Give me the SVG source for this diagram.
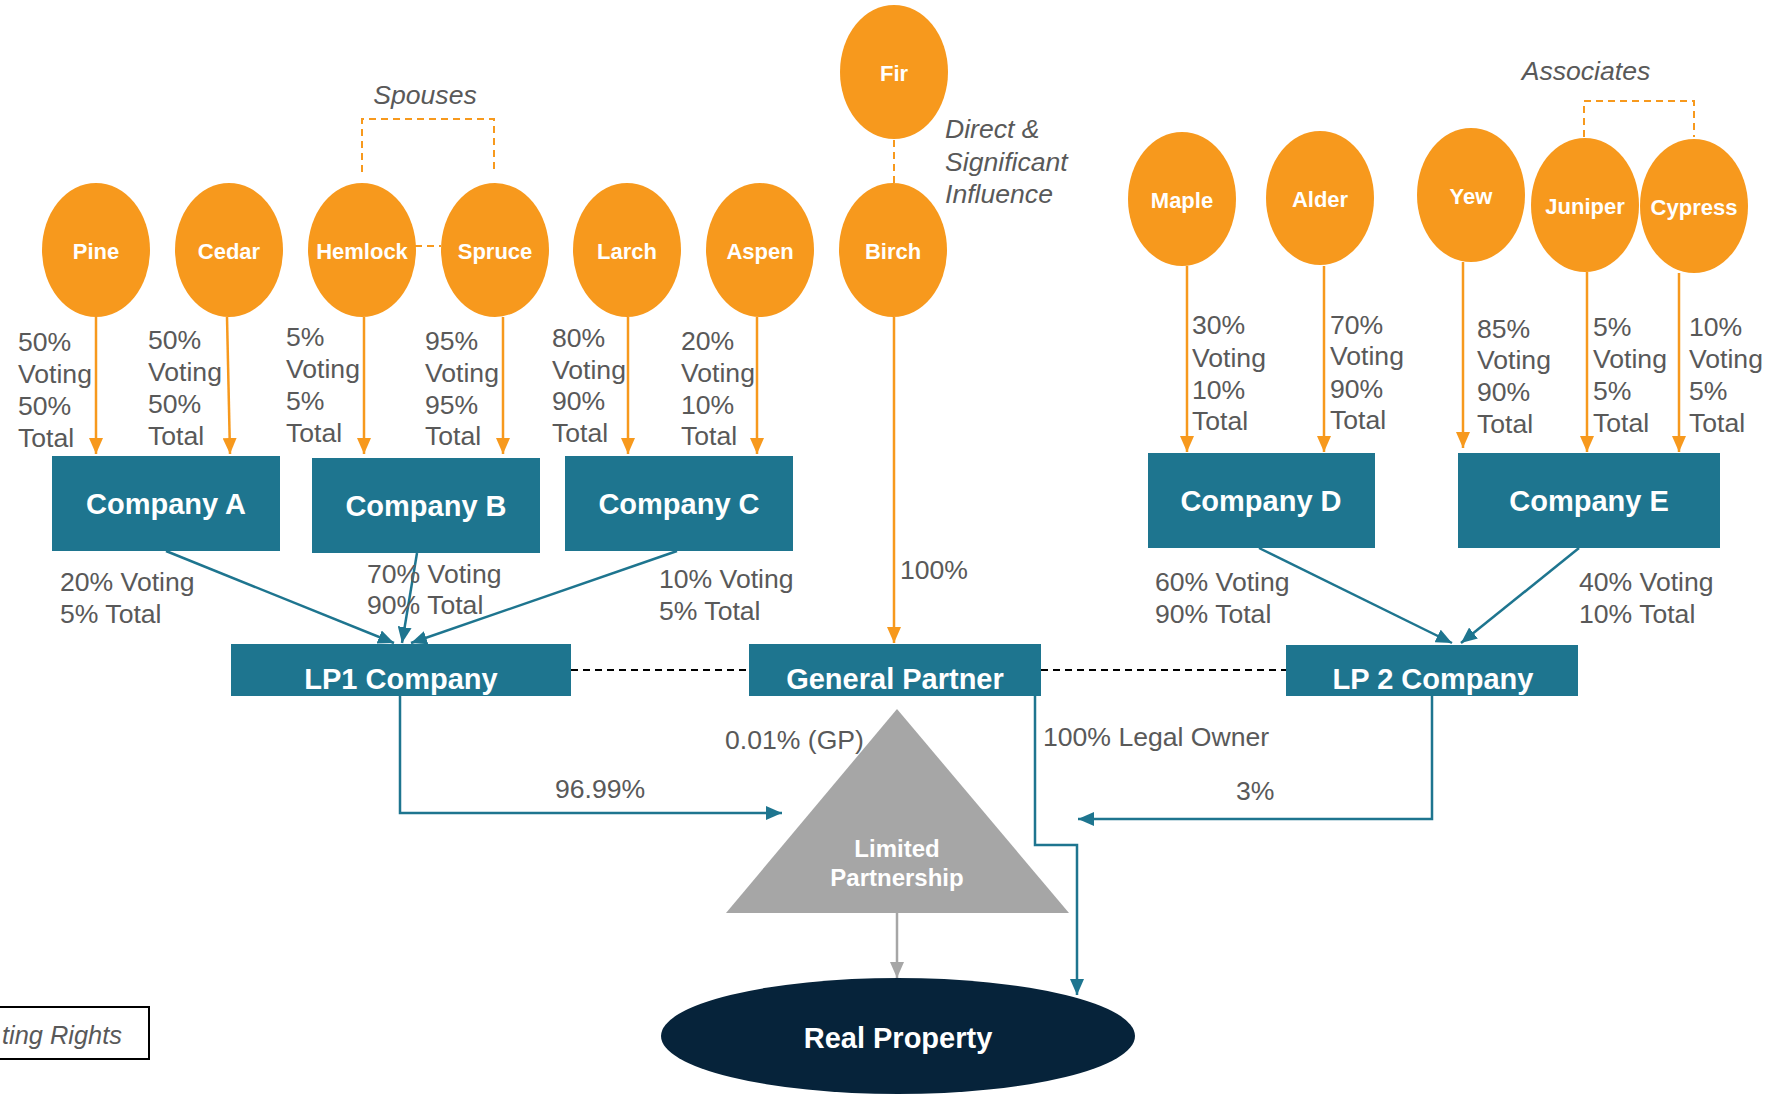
<svg xmlns="http://www.w3.org/2000/svg" width="1773" height="1094" viewBox="0 0 1773 1094">
<defs>
<style>
.per{fill:#F7991D}
.pl{font-family:"Liberation Sans",Arial,sans-serif;font-weight:bold;font-size:22px;fill:#fff;text-anchor:middle}
.box{fill:#1E758F}
.bl{font-family:"Liberation Sans",Arial,sans-serif;font-weight:bold;font-size:29px;fill:#fff;text-anchor:middle}
.lab{font-family:"Liberation Sans",Arial,sans-serif;font-size:26.6px;fill:#595959}
.it{font-family:"Liberation Sans",Arial,sans-serif;font-size:26.6px;font-style:italic;fill:#595959}
.oa{stroke:#F7991D;stroke-width:2.5;fill:none;marker-end:url(#ao)}
.od{stroke:#F7991D;stroke-width:2;fill:none;stroke-dasharray:7 5}
.ta{stroke:#1E758F;stroke-width:2.5;fill:none;marker-end:url(#at)}
.bd{stroke:#000;stroke-width:2;fill:none;stroke-dasharray:7 5}
</style>
<marker id="ao" markerWidth="16" markerHeight="14" refX="16" refY="7" orient="auto" markerUnits="userSpaceOnUse"><path d="M0,0 L16,7 L0,14 z" fill="#F7991D"/></marker>
<marker id="at" markerWidth="16" markerHeight="14" refX="16" refY="7" orient="auto" markerUnits="userSpaceOnUse"><path d="M0,0 L16,7 L0,14 z" fill="#1E758F"/></marker>
<marker id="ag" markerWidth="16" markerHeight="14" refX="16" refY="7" orient="auto" markerUnits="userSpaceOnUse"><path d="M0,0 L16,7 L0,14 z" fill="#A6A6A6"/></marker>
</defs>
<rect width="1773" height="1094" fill="#fff"/>

<g id="connectors">
<path class="od" d="M362,172 V119 H494 V172"/>
<path class="od" d="M415,246 H441"/>
<path class="od" d="M894,140 V183"/>
<path class="od" d="M1584,137 V101 H1694 V137"/>
<path class="oa" d="M96,317 V454"/>
<path class="oa" d="M227,317 L230,454"/>
<path class="oa" d="M364,317 V454"/>
<path class="oa" d="M503,317 V454"/>
<path class="oa" d="M628,317 V454"/>
<path class="oa" d="M757,317 V454"/>
<path class="oa" d="M894,317 V643"/>
<path class="oa" d="M1187,266 V452"/>
<path class="oa" d="M1324,266 V452"/>
<path class="oa" d="M1463,262 V448"/>
<path class="oa" d="M1587,272 V452"/>
<path class="oa" d="M1679,273 V452"/>
<path class="ta" d="M166,551 L394,643"/>
<path class="ta" d="M417,553 L402,643"/>
<path class="ta" d="M677,551 L411,643"/>
<path class="ta" d="M1259,548 L1452,643"/>
<path class="ta" d="M1579,548 L1461,643"/>
<path class="bd" d="M571,670 H749"/>
<path class="bd" d="M1041,670 H1286"/>
<path class="ta" d="M400,696 V813 H782"/>
<path class="ta" d="M1432,696 V819 H1078"/>
<path class="ta" d="M1035,696 V845 H1077 V995"/>
<path d="M897,913 V978" stroke="#A6A6A6" stroke-width="2.5" fill="none" marker-end="url(#ag)"/>
</g>

<g id="labels">
<text class="it" x="425" y="104" text-anchor="middle">Spouses</text>
<text class="it" x="1586" y="80" text-anchor="middle">Associates</text>
<text class="it" x="945" y="138">Direct &amp;</text>
<text class="it" x="945" y="171">Significant</text>
<text class="it" x="945" y="203">Influence</text>

<text class="lab" x="18" y="351">50%</text><text class="lab" x="18" y="383">Voting</text><text class="lab" x="18" y="415">50%</text><text class="lab" x="18" y="447">Total</text>
<text class="lab" x="148" y="349">50%</text><text class="lab" x="148" y="381">Voting</text><text class="lab" x="148" y="413">50%</text><text class="lab" x="148" y="445">Total</text>
<text class="lab" x="286" y="346">5%</text><text class="lab" x="286" y="378">Voting</text><text class="lab" x="286" y="410">5%</text><text class="lab" x="286" y="442">Total</text>
<text class="lab" x="425" y="350">95%</text><text class="lab" x="425" y="382">Voting</text><text class="lab" x="425" y="414">95%</text><text class="lab" x="425" y="445">Total</text>
<text class="lab" x="552" y="347">80%</text><text class="lab" x="552" y="379">Voting</text><text class="lab" x="552" y="410">90%</text><text class="lab" x="552" y="442">Total</text>
<text class="lab" x="681" y="350">20%</text><text class="lab" x="681" y="382">Voting</text><text class="lab" x="681" y="414">10%</text><text class="lab" x="681" y="445">Total</text>

<text class="lab" x="1192" y="334">30%</text><text class="lab" x="1192" y="367">Voting</text><text class="lab" x="1192" y="399">10%</text><text class="lab" x="1192" y="430">Total</text>
<text class="lab" x="1330" y="334">70%</text><text class="lab" x="1330" y="365">Voting</text><text class="lab" x="1330" y="398">90%</text><text class="lab" x="1330" y="429">Total</text>
<text class="lab" x="1477" y="338">85%</text><text class="lab" x="1477" y="369">Voting</text><text class="lab" x="1477" y="401">90%</text><text class="lab" x="1477" y="433">Total</text>
<text class="lab" x="1593" y="336">5%</text><text class="lab" x="1593" y="368">Voting</text><text class="lab" x="1593" y="400">5%</text><text class="lab" x="1593" y="432">Total</text>
<text class="lab" x="1689" y="336">10%</text><text class="lab" x="1689" y="368">Voting</text><text class="lab" x="1689" y="400">5%</text><text class="lab" x="1689" y="432">Total</text>

<text class="lab" x="60" y="591">20% Voting</text><text class="lab" x="60" y="623">5% Total</text>
<text class="lab" x="367" y="583">70% Voting</text><text class="lab" x="367" y="614">90% Total</text>
<text class="lab" x="659" y="588">10% Voting</text><text class="lab" x="659" y="620">5% Total</text>
<text class="lab" x="1155" y="591">60% Voting</text><text class="lab" x="1155" y="623">90% Total</text>
<text class="lab" x="1579" y="591">40% Voting</text><text class="lab" x="1579" y="623">10% Total</text>
<text class="lab" x="900" y="579">100%</text>

<text class="lab" x="725" y="749">0.01% (GP)</text>
<text class="lab" x="1043" y="746">100% Legal Owner</text>
<text class="lab" x="555" y="798">96.99%</text>
<text class="lab" x="1236" y="800">3%</text>
</g>

<g id="pine"><ellipse class="per" cx="96" cy="250" rx="54" ry="67"/><text class="pl" x="96" y="259">Pine</text></g>
<g id="cedar"><ellipse class="per" cx="229" cy="250" rx="54" ry="67"/><text class="pl" x="229" y="259">Cedar</text></g>
<g id="hemlock"><ellipse class="per" cx="362" cy="250" rx="54" ry="67"/><text class="pl" x="362" y="259">Hemlock</text></g>
<g id="spruce"><ellipse class="per" cx="495" cy="250" rx="54" ry="67"/><text class="pl" x="495" y="259">Spruce</text></g>
<g id="larch"><ellipse class="per" cx="627" cy="250" rx="54" ry="67"/><text class="pl" x="627" y="259">Larch</text></g>
<g id="aspen"><ellipse class="per" cx="760" cy="250" rx="54" ry="67"/><text class="pl" x="760" y="259">Aspen</text></g>
<g id="birch"><ellipse class="per" cx="893" cy="250" rx="54" ry="67"/><text class="pl" x="893" y="259">Birch</text></g>
<g id="fir"><ellipse class="per" cx="894" cy="72" rx="54" ry="67"/><text class="pl" x="894" y="81">Fir</text></g>
<g id="maple"><ellipse class="per" cx="1182" cy="199" rx="54" ry="67"/><text class="pl" x="1182" y="208">Maple</text></g>
<g id="alder"><ellipse class="per" cx="1320" cy="198" rx="54" ry="67"/><text class="pl" x="1320" y="207">Alder</text></g>
<g id="yew"><ellipse class="per" cx="1471" cy="195" rx="54" ry="67"/><text class="pl" x="1471" y="204">Yew</text></g>
<g id="juniper"><ellipse class="per" cx="1585" cy="205" rx="54" ry="67"/><text class="pl" x="1585" y="214">Juniper</text></g>
<g id="cypress"><ellipse class="per" cx="1694" cy="206" rx="54" ry="67"/><text class="pl" x="1694" y="215">Cypress</text></g>

<g id="company-a"><rect class="box" x="52" y="456" width="228" height="95"/><text class="bl" x="166" y="514">Company A</text></g>
<g id="company-b"><rect class="box" x="312" y="458" width="228" height="95"/><text class="bl" x="426" y="516">Company B</text></g>
<g id="company-c"><rect class="box" x="565" y="456" width="228" height="95"/><text class="bl" x="679" y="514">Company C</text></g>
<g id="company-d"><rect class="box" x="1148" y="453" width="227" height="95"/><text class="bl" x="1261" y="511">Company D</text></g>
<g id="company-e"><rect class="box" x="1458" y="453" width="262" height="95"/><text class="bl" x="1589" y="511">Company E</text></g>

<g id="lp1"><rect class="box" x="231" y="644" width="340" height="52"/><text class="bl" x="401" y="689">LP1 Company</text></g>
<g id="gp"><rect class="box" x="749" y="644" width="292" height="52"/><text class="bl" x="895" y="689">General Partner</text></g>
<g id="lp2"><rect class="box" x="1286" y="645" width="292" height="51"/><text class="bl" x="1433" y="689">LP 2 Company</text></g>

<g id="limited-partnership"><path d="M897,709 L1069,913 L726,913 z" fill="#A6A6A6"/><text class="pl" x="897" y="857" style="font-size:24px">Limited</text><text class="pl" x="897" y="886" style="font-size:24px">Partnership</text></g>

<g id="real-property"><ellipse cx="898" cy="1036" rx="237" ry="58" fill="#06233A"/><text class="bl" x="898" y="1048">Real Property</text></g>

<g id="legend"><rect x="-4" y="1007" width="153" height="52" fill="#fff" stroke="#000" stroke-width="2"/><text class="it" x="2" y="1044" style="font-size:25.4px">ting Rights</text></g>
</svg>
